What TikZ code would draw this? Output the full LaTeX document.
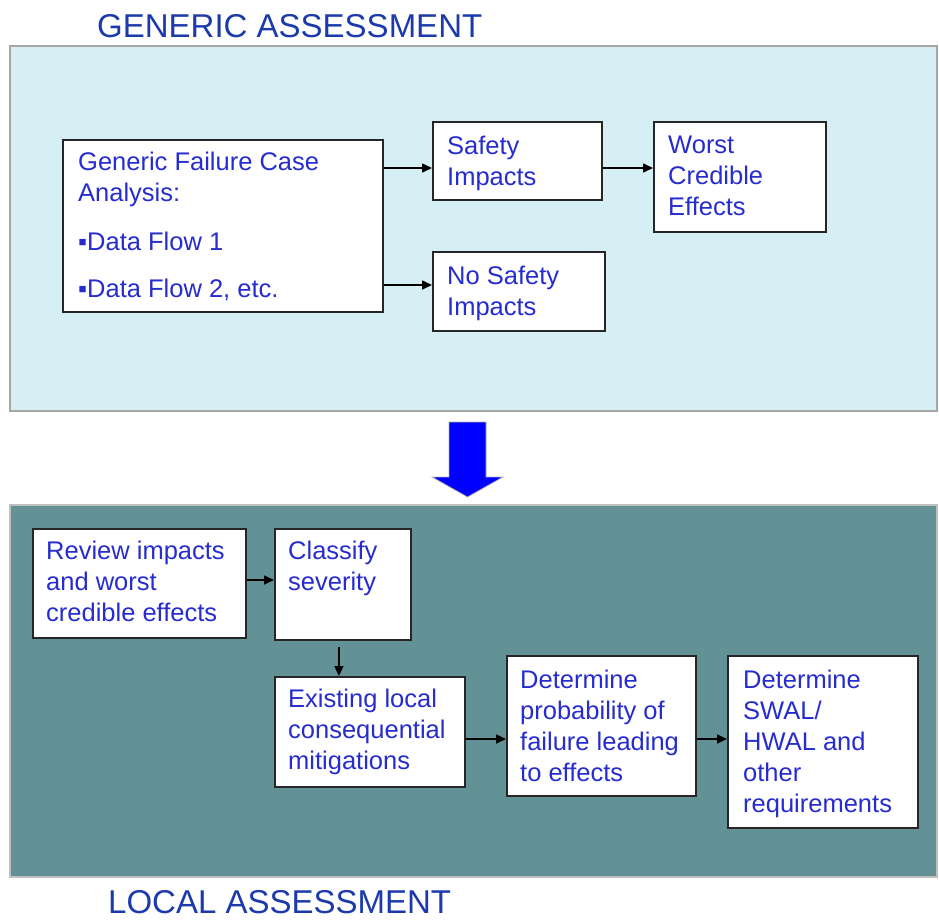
\documentclass[tikz,border=0pt]{standalone}
\usepackage{fontspec}
\setmainfont{Liberation Sans}
\usetikzlibrary{arrows.meta, positioning}

\definecolor{genbg}{RGB}{214,239,244}
\definecolor{locbg}{RGB}{99,146,150}
\definecolor{txtblue}{RGB}{38,44,206}
\definecolor{headblue}{RGB}{28,58,172}
\definecolor{bigblue}{RGB}{0,0,255}

\begin{document}
\begin{tikzpicture}[x=1pt, y=-1pt,
    box/.style={draw=black!85, line width=1.8pt, fill=white, anchor=north west, inner sep=0pt},
    txt/.style={anchor=north west, inner sep=0pt, align=left, text=txtblue, font=\fontsize{25.5}{31}\selectfont},
    head/.style={anchor=base west, inner sep=0pt, text=headblue, font=\fontsize{33}{40}\selectfont},
    arr/.style={-{Triangle[length=10pt, width=9pt]}, line width=1.6pt}]
    \useasboundingbox (0,0) rectangle (939,919);

    % Generic assessment panel
    \draw[fill=genbg, draw=black!35, line width=1.2pt] (10,46) rectangle (937,411);
    \node[head] (gentitle) at (97,37) {GENERIC ASSESSMENT};

    \node[box, minimum width=320pt, minimum height=172pt] (generic) at (62,139) {};
    \node[box, minimum width=169pt, minimum height=78pt] (safety) at (432,121) {};
    \node[box, minimum width=172pt, minimum height=110pt] (worst) at (653,121) {};
    \node[box, minimum width=172pt, minimum height=79pt] (nosafety) at (432,251) {};

    \node[txt] (generic-t) at (78,152) {Generic Failure Case\\Analysis:\\[18pt]▪Data Flow 1\\[16pt]▪Data Flow 2, etc.};
    \node[txt] (safety-t) at (447,136) {Safety\\Impacts};
    \node[txt] (worst-t) at (668,136) {Worst\\Credible\\Effects};
    \node[txt] (nosafety-t) at (447,266) {No Safety\\Impacts};

    \coordinate (row1) at (0,168);
    \coordinate (row2) at (0,285);
    \draw[arr] (generic.east |- row1) -- (safety.west |- row1);
    \draw[arr] (safety.east |- row1) -- (worst.west |- row1);
    \draw[arr] (generic.east |- row2) -- (nosafety.west |- row2);

    % Big arrow down
    \draw[fill=bigblue, draw=black!30, line width=0.8pt] (449,422) -- (486,422) -- (486,477) -- (503,477)
        -- (467.5,497) -- (432,477) -- (449,477) -- cycle;

    % Local assessment panel
    \draw[fill=locbg, draw=black!25, line width=1.2pt] (10,505) rectangle (937,877);
    \node[head] (loctitle) at (108,913) {LOCAL ASSESSMENT};

    \node[box, minimum width=213pt, minimum height=109pt] (review) at (32,528) {};
    \node[box, minimum width=136pt, minimum height=111pt] (classify) at (274,528) {};
    \node[box, minimum width=190pt, minimum height=110pt] (existing) at (274,676) {};
    \node[box, minimum width=189pt, minimum height=140pt] (determine) at (506,655) {};
    \node[box, minimum width=190pt, minimum height=172pt] (swal) at (727,655) {};

    \node[txt] (review-t) at (46,541) {Review impacts\\and worst\\credible effects};
    \node[txt] (classify-t) at (288,541) {Classify\\severity};
    \node[txt] (existing-t) at (288,689) {Existing local\\consequential\\mitigations};
    \node[txt] (determine-t) at (520,670) {Determine\\probability of\\failure leading\\to effects};
    \node[txt] (swal-t) at (743,670) {Determine\\SWAL/\\HWAL and\\other\\requirements};

    \coordinate (row3) at (0,739);
    \coordinate (row4) at (0,580);
    \coordinate (drop) at ([xshift=-4pt]classify.south);
    \draw[arr] (review.east |- row4) -- (classify.west |- row4);
    \draw[arr] ([yshift=-6pt]drop) -- (drop |- existing.north);
    \draw[arr] (existing.east |- row3) -- (determine.west |- row3);
    \draw[arr] (determine.east |- row3) -- (swal.west |- row3);
\end{tikzpicture}
\end{document}
